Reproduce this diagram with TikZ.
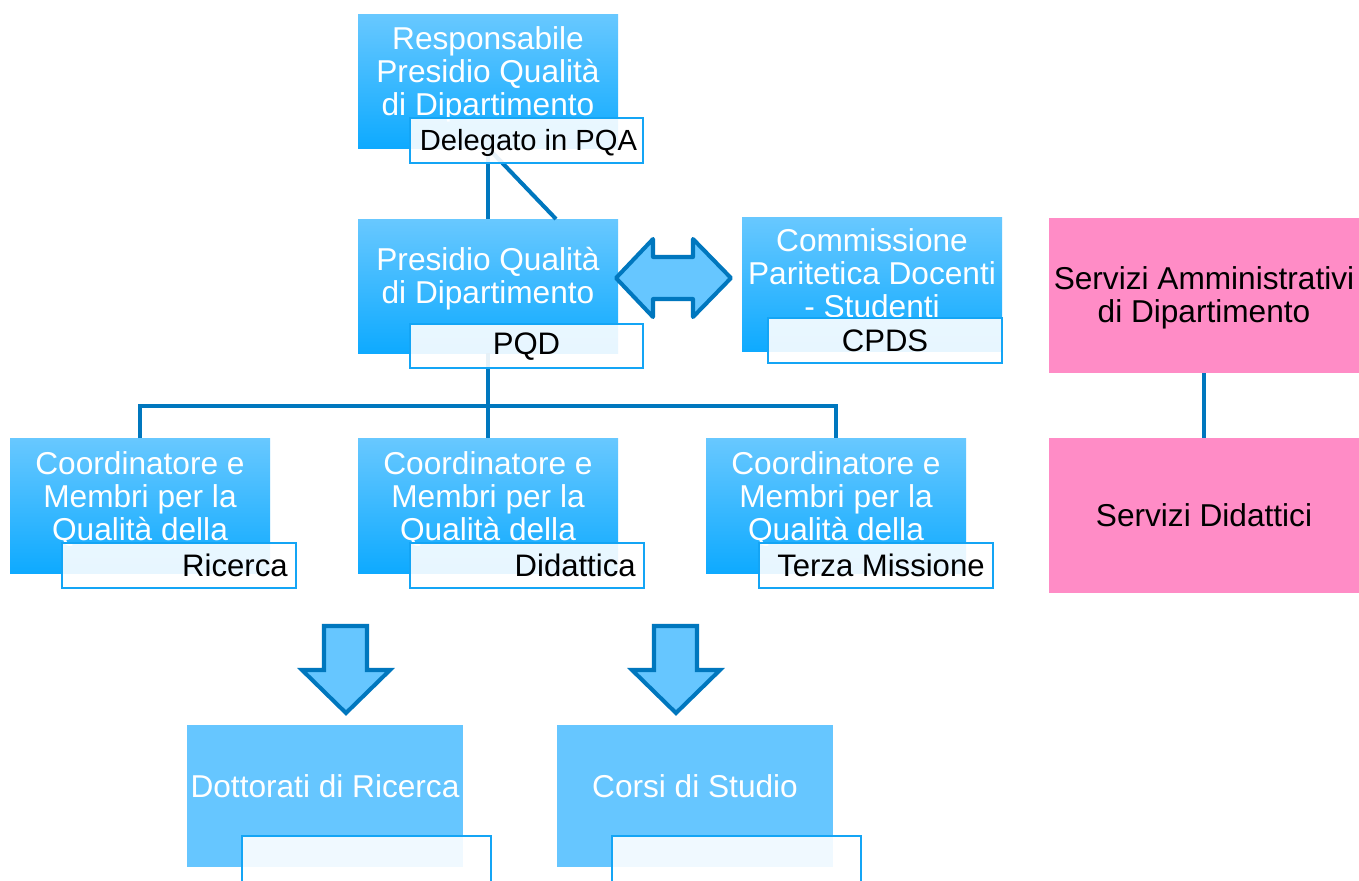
\documentclass[tikz,border=0pt]{standalone}
\usepackage{fontspec}
\setmainfont{Liberation Sans}
\usetikzlibrary{fit,calc}
\definecolor{boxtop}{RGB}{104,200,255}
\definecolor{boxbot}{RGB}{14,170,255}
\definecolor{flatblue}{RGB}{102,198,255}
\definecolor{connblue}{RGB}{0,119,190}
\definecolor{tagline}{RGB}{20,165,245}
\definecolor{pinkbox}{RGB}{255,140,198}
\tikzset{
  gbox/.style={rectangle, inner sep=0pt, outer sep=0pt, draw=none, top color=boxtop, bottom color=boxbot},
  fbox/.style={rectangle, inner sep=0pt, outer sep=0pt, draw=none, fill=flatblue},
  pbox/.style={rectangle, inner sep=0pt, outer sep=0pt, draw=none, fill=pinkbox},
  tag/.style={rectangle, inner sep=0pt, outer sep=0pt, draw=tagline, line width=1.2pt, fill=white, fill opacity=0.9},
  wtext/.style={text=white, align=center, inner sep=0pt, font=\fontsize{18pt}{18.7pt}\selectfont},
  btext/.style={text=black, align=center, inner sep=0pt, font=\fontsize{18pt}{18.7pt}\selectfont},
  ltext/.style={text=black, align=center, inner sep=0pt, font=\fontsize{17.7pt}{18.7pt}\selectfont},
  link/.style={draw=connblue, line width=2.3pt},
  bigarrow/.style={draw=connblue, fill=flatblue, line width=2.3pt},
}
\begin{document}
\begin{tikzpicture}[x=0.02cm,y=-0.02cm]
\useasboundingbox (0,0) rectangle (1359,880);
\clip (0,0) rectangle (1359,880);
\fill[white] (0,0) rectangle (1359,880);
% main boxes
\node[gbox, fit={(358,14)(618,148)}] (resp) {};
\node[gbox, fit={(358,219)(618,353)}] (pqd) {};
\node[gbox, fit={(742,217)(1002,351)}] (cpds) {};
\node[gbox, fit={(10,438)(270,573)}] (ric) {};
\node[gbox, fit={(358,438)(618,573)}] (did) {};
\node[gbox, fit={(706,438)(966,573)}] (terza) {};
\node[fbox, fit={(187,725)(463,867)}] (dott) {};
\node[fbox, fit={(557,725)(833,867)}] (corsi) {};
\node[pbox, fit={(1049,218)(1359,373)}] (amm) {};
\node[pbox, fit={(1049,438)(1359,593)}] (sdid) {};
% box texts
\node[wtext] (resptxt) at (488,74) {Responsabile\\Presidio Qualità\\di Dipartimento};
\node[wtext] (pqdtxt) at (488,279) {Presidio Qualità\\di Dipartimento};
\node[wtext] (cpdstxt) at (872,273) {Commissione\\Paritetica Docenti\\- Studenti};
\node[wtext] (rictxt) at (140,499) {Coordinatore e\\Membri per la\\Qualità della};
\node[wtext] (didtxt) at (488,499) {Coordinatore e\\Membri per la\\Qualità della};
\node[wtext] (terzatxt) at (836,499) {Coordinatore e\\Membri per la\\Qualità della};
\node[wtext] (dotttxt) at ($(dott.center)+(0,-10)$) {Dottorati di Ricerca};
\node[wtext] (corsitxt) at ($(corsi.center)+(0,-10)$) {Corsi di Studio};
\node[btext] (ammtxt) at (1204,298) {Servizi Amministrativi\\di Dipartimento};
\node[btext] (sdidtxt) at (sdid.center) {Servizi Didattici};
% connectors
\draw[link] (resp.south) -- (pqd.north);
\draw[link] (resp.south) -- ($(pqd.north)+(68,0)$);
\coordinate (split) at ($(pqd.south)+(0,53)$);
\draw[link] (pqd.south) -- (split);
\draw[link] (ric.north) |- (split) -| (terza.north);
\draw[link] (split) -- (did.north);
\draw[link] (amm.south) -- (sdid.north);
% tags
\node[tag, fit={(410,118)(643,163)}] (tresp) {};
\node[tag, fit={(410,324)(643,368)}] (tpqd) {};
\node[tag, fit={(768,318)(1002,363)}] (tcpds) {};
\node[tag, fit={(62,543)(296,588)}] (tric) {};
\node[tag, fit={(410,543)(644,588)}] (tdid) {};
\node[tag, fit={(759,543)(993,588)}] (tterza) {};
\node[tag, fit={(242,836)(491,900)}] (tdott) {};
\node[tag, fit={(612,836)(861,900)}] (tcorsi) {};
\node[ltext, font=\fontsize{16.6pt}{18.7pt}\selectfont] at ($(tresp.center)+(2,2)$) {Delegato in PQA};
\node[ltext] at ($(tpqd.center)+(0,1)$) {PQD};
\node[ltext] at (tcpds.center) {CPDS};
\node[ltext, anchor=east] at ($(tric.east)+(-8,0)$) {Ricerca};
\node[ltext, anchor=east] at ($(tdid.east)+(-8,0)$) {Didattica};
\node[ltext, anchor=east] at ($(tterza.east)+(-8,0)$) {Terza Missione};
% double arrow between PQD and CPDS
\draw[bigarrow, line join=round] (616,278) -- (653,239) -- (653,257) -- (693,257) -- (693,239)
  -- (731,278) -- (693,317) -- (693,299) -- (653,299) -- (653,317) -- cycle;
% down arrows
\draw[bigarrow] (324,626) -- (367,626) -- (367,670) -- (390,670) -- (346,713) -- (302,670) -- (324,670) -- cycle;
\draw[bigarrow] (654,626) -- (697,626) -- (697,670) -- (720,670) -- (676,713) -- (632,670) -- (654,670) -- cycle;
\end{tikzpicture}
\end{document}
